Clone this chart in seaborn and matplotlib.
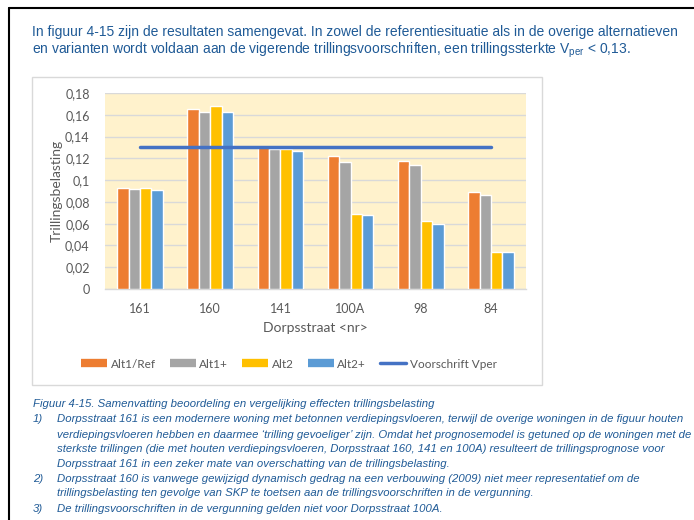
import numpy as np
import pandas as pd
import matplotlib
matplotlib.use("Agg")
import matplotlib.pyplot as plt
from matplotlib.lines import Line2D
from matplotlib.patches import Rectangle
import seaborn as sns

categories = ["161", "160", "141", "100A", "98", "84"]
alt1_ref = [0.093, 0.165, 0.130, 0.122, 0.118, 0.089]
alt1_plus = [0.092, 0.163, 0.129, 0.117, 0.114, 0.086]
alt2 = [0.093, 0.168, 0.129, 0.069, 0.062, 0.034]
alt2_plus = [0.091, 0.163, 0.127, 0.068, 0.060, 0.034]
voorschrift = [0.13, 0.13, 0.13, 0.13, 0.13, 0.13]
series_names = ["Alt1/Ref", "Alt1+", "Alt2", "Alt2+"]
line_name = "Voorschrift Vper"
ytick_values = [0, 0.02, 0.04, 0.06, 0.08, 0.1, 0.12, 0.14, 0.16, 0.18]
ytick_labels = ["0", "0,02", "0,04", "0,06", "0,08", "0,1", "0,12", "0,14", "0,16", "0,18"]

colors = ["#ED7D31", "#A5A5A5", "#FFC000", "#5B9BD5"]
line_color = "#4472C4"
text_blue = "#1F5A96"
gray_text = "#595959"

sns.set_theme(style="white")
plt.rcParams["font.family"] = ["Liberation Sans", "DejaVu Sans"]
chart_font = ["Lato", "DejaVu Sans"]

df = pd.DataFrame({
    "cat": categories * 4,
    "val": alt1_ref + alt1_plus + alt2 + alt2_plus,
    "series": sum([[n] * len(categories) for n in series_names], []),
})

W, H = 694, 520
fig = plt.figure(figsize=(W / 100, H / 100), dpi=100)

def fx(px):
    return px / W

def fy(py):
    return 1 - py / H

# page border
fig.add_artist(Line2D([fx(9), fx(9)], [fy(8), 0], color="black", lw=1.5, transform=fig.transFigure))
fig.add_artist(Line2D([fx(9), 1], [fy(8), fy(8)], color="black", lw=1.5, transform=fig.transFigure))

# intro text
fig.text(fx(32), fy(32), "In figuur 4-15 zijn de resultaten samengevat. In zowel de referentiesituatie als in de overige alternatieven",
         color=text_blue, fontsize=10.0, va="center", ha="left")
fig.text(fx(32), fy(50), "en varianten wordt voldaan aan de vigerende trillingsvoorschriften, een trillingssterkte V$_\\mathregular{per}$ < 0,13.",
         color=text_blue, fontsize=10.0, va="center", ha="left")

# chart box
fig.add_artist(Rectangle((fx(32), fy(385)), fx(542) - fx(32), fy(77) - fy(385),
                         transform=fig.transFigure, facecolor="white", edgecolor="#D9D9D9", lw=1.0, zorder=0))

ax = fig.add_axes([fx(105), fy(289), fx(526) - fx(105), fy(93) - fy(289)])
ax.set_facecolor("#FFF2CC")
sns.barplot(data=df, x="cat", y="val", hue="series", palette=colors, width=0.65,
            gap=0, saturation=1, ax=ax, legend=False, zorder=3)
sns.lineplot(x=np.arange(len(categories)), y=voorschrift, color=line_color, lw=2.5, ax=ax, zorder=4)

ax.set_ylim(0, 0.18)
ax.set_xlim(-0.5, len(categories) - 0.5)
ax.set_yticks(ytick_values)
ax.set_yticklabels(ytick_labels)
ax.yaxis.grid(True, color="#D9D9D9", lw=1.0, zorder=0)
ax.set_axisbelow(True)
for s in ["top", "right", "left"]:
    ax.spines[s].set_visible(False)
ax.spines["bottom"].set_color("#D9D9D9")
ax.spines["bottom"].set_linewidth(1.0)
ax.tick_params(axis="both", length=0, colors=gray_text, labelsize=9)
ax.tick_params(axis="y", pad=11)
ax.tick_params(axis="x", pad=10)
for lab in ax.get_xticklabels() + ax.get_yticklabels():
    lab.set_family(chart_font)
ax.set_xlabel("Dorpsstraat <nr>", color=gray_text, fontsize=10, family=chart_font, labelpad=5)
ax.set_ylabel("Trillingsbelasting", color=gray_text, fontsize=10, family=chart_font, labelpad=2)

handles = [Line2D([0], [0], color=c, lw=6, solid_capstyle="butt") for c in colors]
handles.append(Line2D([0], [0], color=line_color, lw=2.5))
fig.legend(handles, series_names + [line_name], loc="center", bbox_to_anchor=(fx(289), fy(364)),
           ncol=5, frameon=False, handlelength=2.2, handletextpad=0.3, columnspacing=1.2,
           prop={"family": chart_font, "size": 8.5}, labelcolor=gray_text)

# caption
cap_style = dict(color=text_blue, fontsize=8.2, style="italic", va="center", ha="left")
fig.text(fx(33), fy(404), "Figuur 4-15. Samenvatting beoordeling en vergelijking effecten trillingsbelasting", **cap_style)
items = [
    ("1)", 419, "Dorpsstraat 161 is een modernere woning met betonnen verdiepingsvloeren, terwijl de overige woningen in de figuur houten"),
    (None, 435, "verdiepingsvloeren hebben en daarmee \u2018trilling gevoeliger\u2019 zijn. Omdat het prognosemodel is getuned op de woningen met de"),
    (None, 449, "sterkste trillingen (die met houten verdiepingsvloeren, Dorpsstraat 160, 141 en 100A) resulteert de trillingsprognose voor"),
    (None, 464, "Dorpsstraat 161 in een zeker mate van overschatting van de trillingsbelasting."),
    ("2)", 479, "Dorpsstraat 160 is vanwege gewijzigd dynamisch gedrag na een verbouwing (2009) niet meer representatief om de"),
    (None, 493, "trillingsbelasting ten gevolge van SKP te toetsen aan de trillingsvoorschriften in de vergunning."),
    ("3)", 509, "De trillingsvoorschriften in de vergunning gelden niet voor Dorpsstraat 100A."),
]
for num, y, txt in items:
    if num:
        fig.text(fx(33), fy(y), num, **cap_style)
    fig.text(fx(57), fy(y), txt, **cap_style)

fig.savefig("out.png", dpi=100)
